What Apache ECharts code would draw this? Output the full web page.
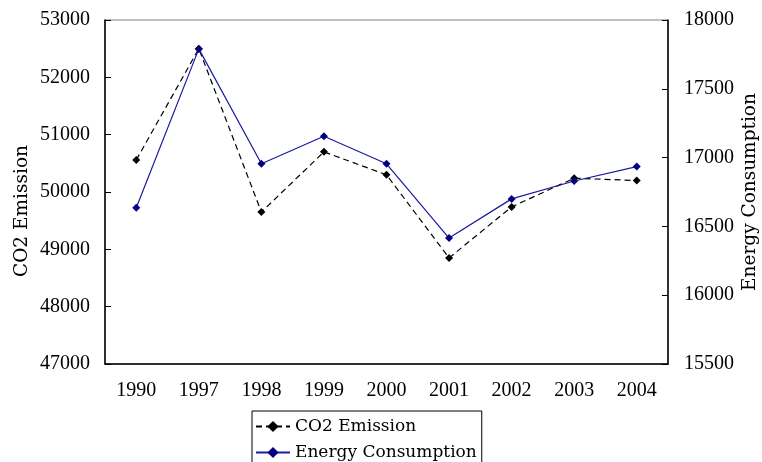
<!DOCTYPE html>
<html>
<head>
<meta charset="utf-8">
<script src="https://cdn.jsdelivr.net/npm/echarts@6/dist/echarts.min.js"></script>
<style>html,body{margin:0;padding:0;background:#fff}#c{width:762px;height:462px}</style>
</head>
<body>
<div id="c"></div>
<script>
var categories = ['1990','1997','1998','1999','2000','2001','2002','2003','2004'];
var co2Emission = [50560, 52500, 49650, 50700, 50300, 48850, 49740, 50240, 50200];
var energyConsumption = [16635, 17790, 16955, 17155, 16955, 16415, 16700, 16830, 16935];
var leftTicks = {min: 47000, max: 53000, interval: 1000};
var rightTicks = {min: 15500, max: 18000, interval: 500};
var co2Name = 'CO2 Emission';
var energyName = 'Energy Consumption';

var plain = function (v) { return String(v); };
var tickFont = {fontFamily: '"Liberation Serif", serif', fontSize: 20, color: '#000'};
var chart = echarts.init(document.getElementById('c'), null, {renderer: 'canvas'});
chart.setOption({
  animation: false,
  backgroundColor: '#fff',
  grid: {left: 105, right: 94, top: 20, bottom: 98, show: true, borderColor: '#808080', borderWidth: 1, backgroundColor: 'transparent'},
  xAxis: {
    type: 'category', data: categories, boundaryGap: true,
    axisLine: {lineStyle: {color: '#000', width: 1.5}},
    axisTick: {inside: true, length: 6, lineStyle: {color: '#000'}},
    axisLabel: Object.assign({margin: 17}, tickFont),
    splitLine: {show: false}
  },
  yAxis: [{
    type: 'value', position: 'left', min: leftTicks.min, max: leftTicks.max, interval: leftTicks.interval,
    axisLine: {show: true, lineStyle: {color: '#000', width: 1.5}},
    axisTick: {show: true, inside: true, length: 6, lineStyle: {color: '#000'}},
    axisLabel: Object.assign({margin: 15, formatter: plain}, tickFont),
    splitLine: {show: false}
  }, {
    type: 'value', position: 'right', min: rightTicks.min, max: rightTicks.max, interval: rightTicks.interval,
    axisLine: {show: true, lineStyle: {color: '#000', width: 1.5}},
    axisTick: {show: true, inside: true, length: 6, lineStyle: {color: '#000'}},
    axisLabel: Object.assign({margin: 16, formatter: plain}, tickFont),
    splitLine: {show: false}
  }],
  legend: {
    orient: 'vertical', left: 252, top: 411, height: 80,
    borderColor: '#000', borderWidth: 1, borderRadius: 0,
    padding: [7, 5, 7, 3], itemGap: 9, itemWidth: 34, itemHeight: 14,
    textStyle: {fontFamily: 'DejaVu Serif', fontSize: 17, color: '#000'},
    data: [co2Name, energyName]
  },
  graphic: [{
    type: 'text', rotation: Math.PI / 2,
    x: 22, y: 211,
    style: {text: co2Name, font: '18.5px "DejaVu Serif"', fill: '#000', textAlign: 'center', textVerticalAlign: 'middle'}
  }, {
    type: 'text', rotation: Math.PI / 2,
    x: 750, y: 192,
    style: {text: energyName, font: '18.5px "DejaVu Serif"', fill: '#000', textAlign: 'center', textVerticalAlign: 'middle'}
  }],
  series: [{
    name: co2Name, type: 'line', yAxisIndex: 0, data: co2Emission,
    symbol: 'diamond', symbolSize: 8,
    lineStyle: {color: '#000', width: 1.2, type: [6, 4]},
    itemStyle: {color: '#000'}
  }, {
    name: energyName, type: 'line', yAxisIndex: 1, data: energyConsumption,
    symbol: 'diamond', symbolSize: 8,
    lineStyle: {color: '#1a1aa0', width: 1.2},
    itemStyle: {color: '#000080'}
  }]
});
</script>
</body>
</html>
